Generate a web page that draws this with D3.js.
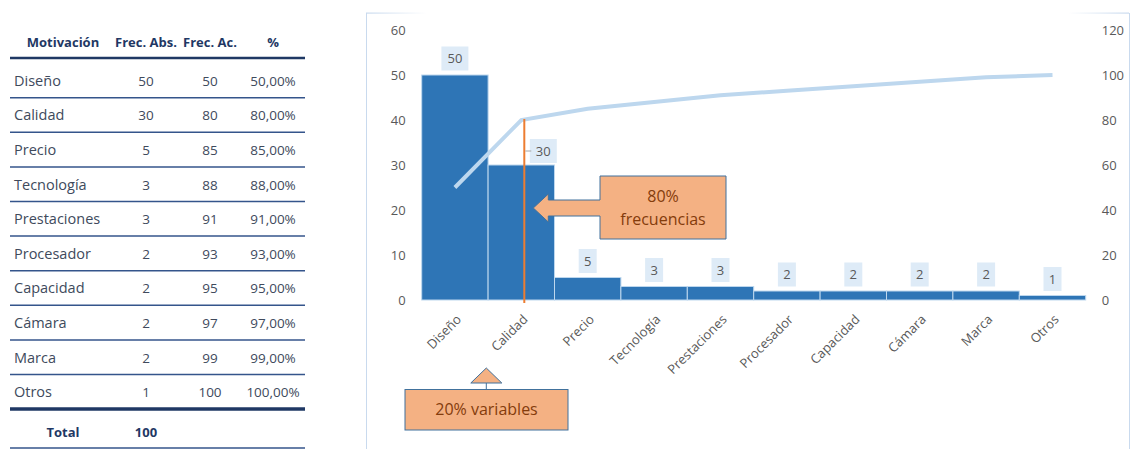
<!DOCTYPE html>
<html lang="es">
<head>
  <meta charset="UTF-8">
  <title>Diagrama de Pareto - Motivación</title>
  <script src="https://d3js.org/d3.v7.min.js"></script>
  <style>
    body { margin: 0; background: #fff; }
    svg text { font-family: "Open Sans", "Liberation Sans", sans-serif; }
    .tabla text { fill: #404a5c; font-size: 13.5px; }
    .tabla .nom { font-size: 14.5px; }
    .tabla .cab { fill: #1f3864; font-weight: bold; font-size: 13px; }
    .eje text { fill: #595959; font-size: 13px; }
    .cat { fill: #595959; font-size: 13px; }
    .etq text { fill: #595959; font-size: 13px; }
    .nota { fill: #843c0c; font-size: 16px; }
  </style>
</head>
<body>
<script>
// datos
const categorias = ["Diseño", "Calidad", "Precio", "Tecnología", "Prestaciones",
  "Procesador", "Capacidad", "Cámara", "Marca", "Otros"];
const frecAbs = [50, 30, 5, 3, 3, 2, 2, 2, 2, 1];
const frecAc = [50, 80, 85, 88, 91, 93, 95, 97, 99, 100];
const total = 100;
const cabeceras = ["Motivación", "Frec. Abs.", "Frec. Ac.", "%"];
const ticksIzq = [0, 10, 20, 30, 40, 50, 60];
const ticksDer = [0, 20, 40, 60, 80, 100, 120];

const width = 1133, height = 449;
const svg = d3.select("body").append("svg")
  .attr("width", width).attr("height", height);

const es = d3.formatLocale({decimal: ",", thousands: ".", grouping: [3], currency: ["", "€"]});
const fmtPct = es.format(".2%");

// ---- tabla ----
const tabla = svg.append("g").attr("class", "tabla");
const colX = [63, 146, 210, 273];
const filaY = i => 80.7 + i * 34.6;

tabla.selectAll(".cab").data(cabeceras).join("text")
  .attr("class", "cab")
  .attr("x", (d, i) => colX[i]).attr("y", 47)
  .attr("text-anchor", "middle")
  .text(d => d);

tabla.append("line").attr("x1", 10).attr("x2", 305).attr("y1", 58).attr("y2", 58)
  .attr("stroke", "#1f3864").attr("stroke-width", 2.5);

const filas = tabla.selectAll(".fila").data(categorias).join("g")
  .attr("class", "fila")
  .attr("transform", (d, i) => `translate(0,${filaY(i)})`);

filas.append("text").attr("class", "nom").attr("x", 14).attr("y", 5).text(d => d);
filas.append("text").attr("x", colX[1]).attr("y", 5).attr("text-anchor", "middle")
  .text((d, i) => frecAbs[i]);
filas.append("text").attr("x", colX[2]).attr("y", 5).attr("text-anchor", "middle")
  .text((d, i) => frecAc[i]);
filas.append("text").attr("x", colX[3]).attr("y", 5).attr("text-anchor", "middle")
  .text((d, i) => fmtPct(frecAc[i] / total));
filas.filter((d, i) => i < categorias.length - 1)
  .append("line").attr("x1", 10).attr("x2", 305).attr("y1", 17).attr("y2", 17)
  .attr("stroke", "#34558b").attr("stroke-width", 1.5);

const yUlt = filaY(categorias.length - 1);
tabla.append("line").attr("x1", 10).attr("x2", 305)
  .attr("y1", yUlt + 17).attr("y2", yUlt + 17)
  .attr("stroke", "#1f3864").attr("stroke-width", 3.5);
tabla.append("text").attr("class", "cab").attr("x", colX[0]).attr("y", yUlt + 45)
  .attr("text-anchor", "middle").text("Total");
tabla.append("text").attr("class", "cab").attr("x", colX[1]).attr("y", yUlt + 45)
  .attr("text-anchor", "middle").text(total);
tabla.append("line").attr("x1", 10).attr("x2", 305).attr("y1", 448).attr("y2", 448)
  .attr("stroke", "#34558b").attr("stroke-width", 1.5);

// ---- marco del gráfico ----
const marco = svg.append("g");
const grad = svg.append("defs").append("linearGradient").attr("id", "fade")
  .attr("x1", 0).attr("x2", 1);
grad.append("stop").attr("offset", 0).attr("stop-color", "#c9daee").attr("stop-opacity", 1);
grad.append("stop").attr("offset", 0.08).attr("stop-color", "#c9daee").attr("stop-opacity", 0);
grad.append("stop").attr("offset", 0.92).attr("stop-color", "#c9daee").attr("stop-opacity", 0);
grad.append("stop").attr("offset", 1).attr("stop-color", "#c9daee").attr("stop-opacity", 1);
marco.append("rect").attr("x", 366).attr("y", 12.5).attr("width", 763).attr("height", 1.2)
  .attr("fill", "url(#fade)");
marco.append("line").attr("x1", 366.5).attr("x2", 366.5).attr("y1", 13).attr("y2", 449)
  .attr("stroke", "#c9daee");
marco.append("line").attr("x1", 1129.5).attr("x2", 1129.5).attr("y1", 13).attr("y2", 449)
  .attr("stroke", "#c9daee");

// ---- escalas ----
const x = d3.scaleBand().domain(categorias).range([421.7, 1085.7]).padding(0);
const yIzq = d3.scaleLinear().domain([0, 60]).range([300, 30]);
const yDer = d3.scaleLinear().domain([0, 120]).range([300, 30]);

const ejeIzq = svg.append("g").attr("class", "eje")
  .attr("transform", `translate(${x.range()[0]},0)`)
  .call(d3.axisLeft(yIzq).tickValues(ticksIzq).tickSize(0).tickPadding(16));
ejeIzq.select(".domain").remove();
ejeIzq.selectAll("text").attr("dy", "0.35em");

const ejeDer = svg.append("g").attr("class", "eje")
  .attr("transform", `translate(${x.range()[1]},0)`)
  .call(d3.axisRight(yDer).tickValues(ticksDer).tickSize(0).tickPadding(16));
ejeDer.select(".domain").remove();
ejeDer.selectAll("text").attr("dy", "0.35em");
svg.selectAll(".eje").attr("font-family", null).attr("font-size", null);

// ---- barras ----
svg.append("g").selectAll("rect").data(frecAbs).join("rect")
  .attr("x", (d, i) => x(categorias[i]))
  .attr("y", d => yIzq(d))
  .attr("width", x.bandwidth())
  .attr("height", d => yIzq(0) - yIzq(d))
  .attr("fill", "#2e75b6")
  .attr("stroke", "#bdd7ee")
  .attr("stroke-width", 1);

// ---- categorías ----
svg.append("g").selectAll("text").data(categorias).join("text")
  .attr("class", "cat")
  .attr("text-anchor", "end")
  .attr("transform", d => `translate(${x(d) + x.bandwidth() / 2 + 4},${317}) rotate(-45)`)
  .attr("dy", "0.35em")
  .text(d => d);

// ---- línea acumulada ----
const linea = d3.line()
  .x((d, i) => x(categorias[i]) + x.bandwidth() / 2)
  .y(d => yDer(d));
svg.append("path").datum(frecAc)
  .attr("d", linea)
  .attr("fill", "none")
  .attr("stroke", "#bdd7ee")
  .attr("stroke-width", 4);

// ---- línea 80/20 ----
const xCorte = x(categorias[1]) + x.bandwidth() / 2 + 3;
svg.append("line")
  .attr("x1", xCorte).attr("x2", xCorte)
  .attr("y1", yDer(frecAc[1]) - 1).attr("y2", yIzq(0) + 3)
  .attr("stroke", "#ed7d31").attr("stroke-width", 2);

// ---- etiquetas de datos ----
const etq = svg.append("g").attr("class", "etq").selectAll("g").data(frecAbs).join("g")
  .attr("transform", (d, i) => {
    const cx = x(categorias[i]) + x.bandwidth() / 2;
    // la etiqueta de "Calidad" está desplazada a la derecha de la línea 80/20
    return i === 1
      ? `translate(${cx + 22},${yIzq(d) - 14})`
      : `translate(${cx},${yIzq(d) - 16.5})`;
  });
etq.append("rect")
  .attr("x", d => String(d).length > 1 ? -13.5 : -9)
  .attr("width", d => String(d).length > 1 ? 27 : 18)
  .attr("y", -12).attr("height", 24)
  .attr("fill", "#deebf7");
etq.append("text").attr("text-anchor", "middle").attr("dy", "0.35em").text(d => d);
svg.append("line")
  .attr("x1", xCorte + 1).attr("x2", xCorte + 7)
  .attr("y1", yIzq(frecAbs[1]) - 14).attr("y2", yIzq(frecAbs[1]) - 14)
  .attr("stroke", "#a6a6a6").attr("stroke-width", 1);

// ---- notas ----
const naranja = "#f4b183", borde = "#41719c";
const tipY = yIzq(20) - 2;
const punta = xCorte + 9;
svg.append("path")
  .attr("d", `M600,176 H726 V239 H600 V${tipY + 8} H${punta + 15} V${tipY + 14}
    L${punta},${tipY} L${punta + 15},${tipY - 14} V${tipY - 8} H600 Z`)
  .attr("fill", naranja).attr("stroke", borde).attr("stroke-width", 1);
svg.append("text").attr("class", "nota").attr("x", 663).attr("y", 202)
  .attr("text-anchor", "middle").text("80%");
svg.append("text").attr("class", "nota").attr("x", 663).attr("y", 225)
  .attr("text-anchor", "middle").text("frecuencias");

const cx20 = x(categorias[1]) + x.bandwidth() / 2 - 35;
svg.append("path")
  .attr("d", `M${cx20},368 L${cx20 + 15.5},383 H${cx20 - 15.5} Z`)
  .attr("fill", naranja).attr("stroke", borde).attr("stroke-width", 1);
svg.append("line").attr("x1", cx20).attr("x2", cx20).attr("y1", 383).attr("y2", 389.5)
  .attr("stroke", borde).attr("stroke-width", 1);
svg.append("rect").attr("x", 405).attr("y", 389.5).attr("width", 163).attr("height", 40.5)
  .attr("fill", naranja).attr("stroke", borde).attr("stroke-width", 1);
svg.append("text").attr("class", "nota").attr("x", 486.5).attr("y", 415)
  .attr("text-anchor", "middle").text("20% variables");
</script>
</body>
</html>
